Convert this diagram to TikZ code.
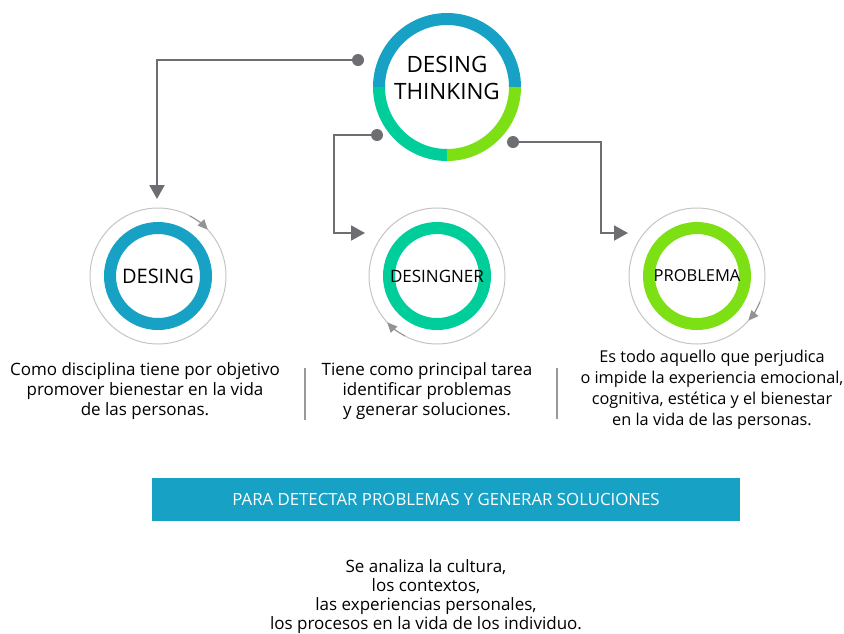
\documentclass[tikz,border=0pt]{standalone}
\usepackage{fontspec}
\setmainfont{Open Sans}
\usetikzlibrary{arrows.meta}
\definecolor{dtblue}{HTML}{17A2C5}
\definecolor{dtteal}{HTML}{00CE9A}
\definecolor{dtlime}{HTML}{7DE015}
\definecolor{dtgray}{HTML}{6D6E71}
\definecolor{dtlight}{HTML}{C4C4C4}
\tikzset{
    ring/.style={circle, draw, line width=12pt, inner sep=0pt, minimum size=96pt, font=\fontsize{17}{20}\selectfont},
    halo/.style={draw=dtlight, line width=1pt},
    turn/.style={draw=dtlight!75!black, line width=1pt, -{Triangle[length=10pt, width=9pt]}},
    dot/.style={circle, fill=dtgray, inner sep=0pt, minimum size=12pt},
    conn/.style={draw=dtgray, line width=2pt, -{Triangle[length=14pt, width=15pt]}},
    txt/.style={align=center, font=\fontsize{17}{20}\selectfont},
    sep/.style={draw=dtgray!70, line width=1.5pt}
}
\begin{document}
\begin{tikzpicture}[x=1pt, y=1pt]
        \useasboundingbox (0, 0) rectangle (844, -633);
        \node[circle, minimum size=136pt] (dt) at (447, -87) {};
        \node[align=center, font=\fontsize{22.5}{27}\selectfont] (dtlabel) at (447, -78) {DESING\\THINKING};
        \draw[dtblue, line width=12pt] (dt.center) ++(180:68pt) arc (180:0:68pt);
        \draw[dtteal, line width=12pt] (dt.center) ++(180:68pt) arc (180:270:68pt);
        \draw[dtlime, line width=12pt] (dt.center) ++(270:68pt) arc (270:360:68pt);
        \node[ring, draw=dtblue, font=\fontsize{20}{22}\selectfont] (desing) at (158, -276) {DESING};
        \node[ring, draw=dtteal] (designer) at (437, -276) {DESINGNER};
        \node[ring, draw=dtlime, font=\fontsize{16.5}{20}\selectfont] (problema) at (697, -276) {PROBLEMA};
        \draw[halo] (desing.center) circle (68pt);
        \draw[halo] (designer.center) circle (68pt);
        \draw[halo] (problema.center) circle (68pt);
        \draw[turn] (desing.center) ++(62:68pt) arc (62:43:68pt);
        \draw[turn] (designer.center) ++(242:68pt) arc (242:223:68pt);
        \draw[turn] (problema.center) ++(-22:68pt) arc (-22:-41:68pt);
        \node[dot] (d1) at (358, -60) {};
        \node[dot] (d2) at (377, -135) {};
        \node[dot] (d3) at (513, -142) {};
        \coordinate (t1) at (157, -199);
        \coordinate (k2) at (334, -233);
        \coordinate (t2) at (365, -233);
        \coordinate (k3) at (601, -233);
        \coordinate (t3) at (628, -233);
        \draw[conn] (d1) -| (t1);
        \draw[conn] (d2) -| (k2) -- (t2);
        \draw[conn] (d3) -| (k3) -- (t3);
        \node[txt] (desc1) at (145, -391) {Como disciplina tiene por objetivo\\promover bienestar en la vida\\de las personas.};
        \node[txt] (desc2) at (427, -391) {Tiene como principal tarea\\identificar problemas\\y generar soluciones.};
        \node[txt, font=\fontsize{16.3}{21}\selectfont] (desc3) at (712, -390) {Es todo aquello que perjudica\\o impide la experiencia emocional,\\cognitiva, estética y el bienestar\\en la vida de las personas.};
        \draw[sep] (305, -368) -- (305, -420);
        \draw[sep] (557, -368) -- (557, -419);
        \node[fill=dtblue, text=white, minimum width=588pt, minimum height=43pt, font=\fontsize{16.8}{18}\selectfont] (band) at (446, -499) {PARA DETECTAR PROBLEMAS Y GENERAR SOLUCIONES};
        \node[txt, font=\fontsize{17}{19}\selectfont] (analisis) at (426, -597) {Se analiza la cultura,\\los contextos,\\las experiencias personales,\\los procesos en la vida de los individuo.};
    \end{tikzpicture}
\end{document}
